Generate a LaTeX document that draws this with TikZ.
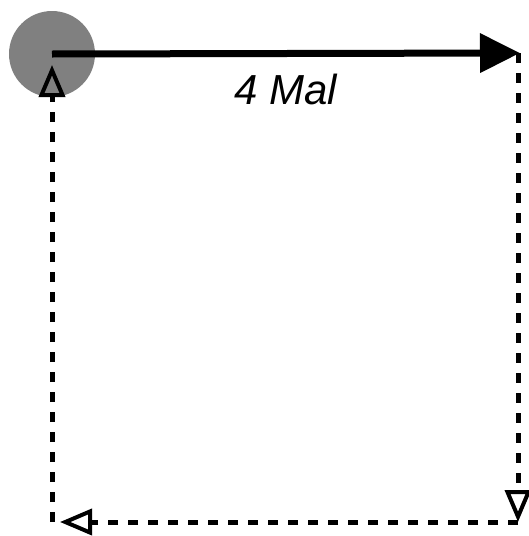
\documentclass[tikz,border=0pt]{standalone}
\usepackage{fontspec}
\setmainfont{Liberation Sans}
\usetikzlibrary{arrows.meta}

\begin{document}
\begin{tikzpicture}[
    x=1pt, y=-1pt,
    dot/.style={circle, fill=black!50, minimum size=86pt, inner sep=0pt},
    arr/.style={-{Triangle[length=40pt, width=38pt]}, line width=7pt},
    back/.style={-{Triangle[open, length=32pt, width=26pt, line width=4pt]},
        line width=5pt, dash pattern=on 10pt off 10pt},
    tag/.style={font=\fontsize{42}{50}\selectfont\itshape, inner sep=0pt},
  ]
  \useasboundingbox (0,0) rectangle (528,536);
  \node[dot] (start) at (52,54) {};
  \coordinate (tr) at (520,53);
  \coordinate (rt) at (518,53);
  \coordinate (br) at (518,522);
  \coordinate (bl) at (52,522);
  \coordinate (bt) at (60,522);
  \coordinate (lt) at (52,65);
  \draw[arr] (start.center) -- (tr);
  \node[tag] (times) at (286,89) {4 Mal};
  \draw[back] (rt) -- (br);
  \draw[back] (br) -- (bt);
  \draw[back] (bl) -- (lt);
\end{tikzpicture}
\end{document}
